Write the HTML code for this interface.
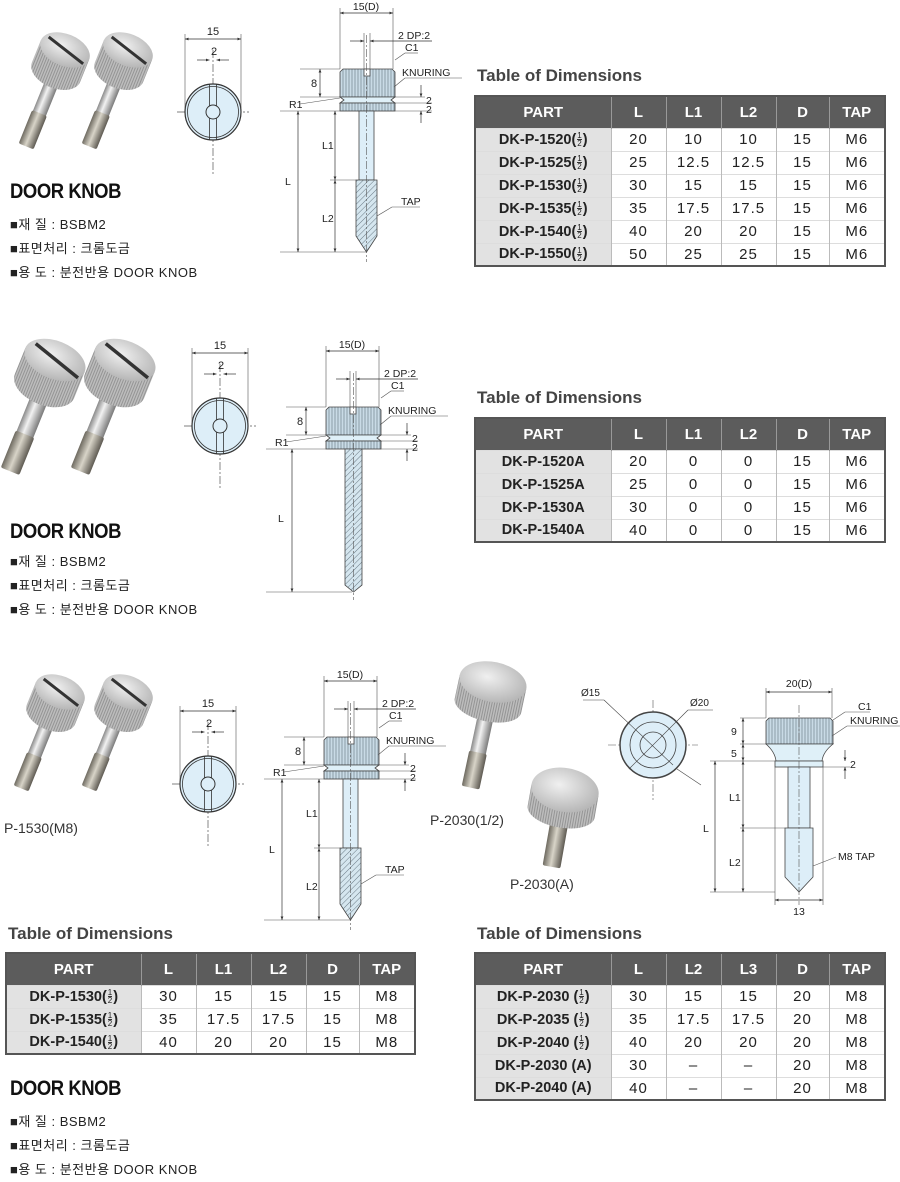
<!DOCTYPE html>
<html><head><meta charset="utf-8">
<style>
*{margin:0;padding:0;box-sizing:border-box}
body{width:900px;height:1177px;background:#fff;position:relative;overflow:hidden;font-family:"Liberation Sans","Noto Sans CJK KR",sans-serif;color:#222}
svg{position:absolute;left:0;top:0}
.tt{position:absolute;font-weight:bold;font-size:17px;color:#444}
table{position:absolute;border-collapse:collapse;border:2px solid #555;font-size:15px}
th{background:#5c5c5c;color:#fff;font-size:15px;font-weight:bold;height:32px;border-left:1px solid #999;text-align:center}
td{height:23px;text-align:center;border-left:1px solid #bbb;letter-spacing:1px;padding:0}
td.p{background:#e2e2e2;font-weight:bold;letter-spacing:0;font-size:14.5px}
tr+tr td{border-top:1px solid #ddd}
.f{display:inline-block;vertical-align:middle;font-size:8px;line-height:7px;text-align:center;font-weight:normal;margin:0 1px}
.f b{display:block;border-bottom:1px solid #333;font-weight:normal}
.dk{position:absolute;font-family:"Liberation Sans Narrow","Liberation Sans",sans-serif;font-weight:bold;font-size:21px;letter-spacing:-0.5px;color:#111;transform:scaleX(0.88);transform-origin:left top}
.bl{position:absolute;font-size:13px;color:#222;line-height:24px;letter-spacing:0.5px}
.lb{position:absolute;font-size:13px;color:#333}
</style></head><body>
<svg width="900" height="1177" viewBox="0 0 900 1177" font-family="Liberation Sans, sans-serif">
<defs>
<pattern id="kn" width="3" height="10" patternUnits="userSpaceOnUse"><rect width="3" height="10" fill="#c9dbe6"/><line x1="1" y1="0" x2="1" y2="10" stroke="#7d8d98" stroke-width="0.8"/></pattern>
<pattern id="th" width="4" height="4" patternUnits="userSpaceOnUse" patternTransform="rotate(45)"><rect width="4" height="4" fill="#d5e6ef"/><line x1="0" y1="0" x2="0" y2="4" stroke="#6a7a85" stroke-width="1"/></pattern>
<pattern id="pk" width="2.5" height="10" patternUnits="userSpaceOnUse"><rect width="2.5" height="10" fill="#bdbdbd"/><line x1="1" y1="0" x2="1" y2="10" stroke="#8a8a8a" stroke-width="0.8"/></pattern>
<linearGradient id="sh" x1="0" x2="1"><stop offset="0" stop-color="#8a8a8a"/><stop offset=".4" stop-color="#f2f2f2"/><stop offset="1" stop-color="#7a7a7a"/></linearGradient>
<linearGradient id="tp" x1="0" x2="1"><stop offset="0" stop-color="#6e6a60"/><stop offset=".45" stop-color="#d8d4c8"/><stop offset="1" stop-color="#5e5a52"/></linearGradient>
<radialGradient id="top" cx=".4" cy=".4" r=".7"><stop offset="0" stop-color="#f0f0f0"/><stop offset="1" stop-color="#b0b0b0"/></radialGradient>
<marker id="a" viewBox="0 0 10 10" refX="10" refY="5" markerWidth="5" markerHeight="5" orient="auto-start-reverse"><path d="M0,1L10,5L0,9z" fill="#333"/></marker>

<g id="knob">
 <rect x="-7" y="28" width="14" height="46" fill="url(#sh)"/>
 <rect x="-8" y="68" width="16" height="36" rx="2" fill="url(#tp)"/>
 <path d="M-26,0 L-26,24 A26,16 0 0 0 26,24 L26,0z" fill="url(#pk)"/>
 <ellipse cx="0" cy="0" rx="26" ry="16" fill="url(#top)"/>
 <path d="M-20,-6 L22,6" stroke="#333" stroke-width="3"/>
</g>
<g id="knob2">
 <rect x="-9" y="36" width="18" height="50" fill="url(#sh)"/>
 <rect x="-10" y="80" width="20" height="40" rx="2" fill="url(#tp)"/>
 <path d="M-32,0 L-32,28 A32,19 0 0 0 32,28 L32,0z" fill="url(#pk)"/>
 <ellipse cx="0" cy="0" rx="32" ry="19" fill="url(#top)"/>
 <path d="M-24,-8 L28,8" stroke="#333" stroke-width="3.5"/>
</g>

<g id="front">
 <line x1="-36" y1="0" x2="36" y2="0" stroke="#555" stroke-width="0.7" stroke-dasharray="8 2 2 2"/>
 <line x1="0" y1="-62" x2="0" y2="62" stroke="#555" stroke-width="0.7" stroke-dasharray="8 2 2 2"/>
 <circle r="28" fill="#ddeef8" stroke="#333" stroke-width="1.2"/>
 <circle r="25.5" fill="none" stroke="#333" stroke-width="0.8"/>
 <line x1="-3.5" y1="-28" x2="-3.5" y2="28" stroke="#333" stroke-width="0.8"/>
 <line x1="3.5" y1="-28" x2="3.5" y2="28" stroke="#333" stroke-width="0.8"/>
 <circle r="7" fill="#ddeef8" stroke="#333" stroke-width="1"/>
 <line x1="-28" y1="-78" x2="-28" y2="-4" stroke="#555" stroke-width="0.6"/>
 <line x1="28" y1="-78" x2="28" y2="-4" stroke="#555" stroke-width="0.6"/>
 <line x1="-28" y1="-73" x2="28" y2="-73" stroke="#333" stroke-width="0.7" marker-start="url(#a)" marker-end="url(#a)"/>
 <text x="0" y="-77" font-size="11" text-anchor="middle" fill="#222">15</text>
 <line x1="-16" y1="-52" x2="-3.5" y2="-52" stroke="#333" stroke-width="0.7" marker-end="url(#a)"/>
 <line x1="16" y1="-52" x2="3.5" y2="-52" stroke="#333" stroke-width="0.7" marker-end="url(#a)"/>
 <text x="1" y="-57" font-size="11" text-anchor="middle" fill="#222">2</text>
</g>

<g id="head" stroke="#444" stroke-width="0.8">
 <path d="M343,69 L392,69 L395,72 L395,97 L340,97 L340,72z" fill="url(#kn)"/>
 <path d="M340,97 L395,97 L391,100 L395,103 L340,103 L344,100z" fill="#dff0f8"/>
 <rect x="340" y="103" width="55" height="8" fill="url(#kn)"/>
 <rect x="364" y="69" width="6" height="7" fill="#fff"/>
 <g fill="none" stroke="#555" stroke-width="0.6">
  <line x1="340" y1="69" x2="340" y2="8"/><line x1="393" y1="69" x2="393" y2="8"/>
  <line x1="364" y1="69" x2="364" y2="33"/><line x1="370" y1="69" x2="370" y2="33"/>
  <line x1="300" y1="69" x2="340" y2="69"/><line x1="300" y1="97" x2="340" y2="97"/>
  <line x1="395" y1="97" x2="425" y2="97"/><line x1="395" y1="103" x2="432" y2="103"/><line x1="280" y1="111" x2="432" y2="111"/>
  <line x1="395" y1="60" x2="405" y2="53"/><line x1="405" y1="53" x2="418" y2="53"/>
  <line x1="394" y1="87" x2="405" y2="78"/><line x1="405" y1="78" x2="462" y2="78"/>
  <line x1="300" y1="104" x2="340" y2="98"/>
 </g>
 <line x1="340" y1="13" x2="393" y2="13" stroke="#333" stroke-width="0.7" marker-start="url(#a)" marker-end="url(#a)"/>
 <line x1="350" y1="41" x2="364" y2="41" stroke="#333" stroke-width="0.7" marker-end="url(#a)"/>
 <line x1="432" y1="41" x2="370" y2="41" stroke="#333" stroke-width="0.7" marker-end="url(#a)"/>
 <line x1="320" y1="69" x2="320" y2="97" stroke="#333" stroke-width="0.7" marker-start="url(#a)" marker-end="url(#a)"/>
 <line x1="421" y1="85" x2="421" y2="97" stroke="#333" stroke-width="0.7" marker-end="url(#a)"/>
 <line x1="421" y1="123" x2="421" y2="111" stroke="#333" stroke-width="0.7" marker-end="url(#a)"/>
 <g stroke="none" fill="#222" font-size="10.5">
  <text x="366" y="10" text-anchor="middle">15(D)</text>
  <text x="398" y="39">2 DP:2</text>
  <text x="405" y="51">C1</text>
  <text x="402" y="76">KNURING</text>
  <text x="311" y="87" font-size="11">8</text>
  <text x="289" y="108">R1</text>
  <text x="426" y="104">2</text>
  <text x="426" y="113">2</text>
 </g>
</g>

<g id="shank1">
 <rect x="359" y="111" width="15" height="69" fill="#ddeef8" stroke="#444" stroke-width="0.8"/>
 <path d="M356,180 L377,180 L377,236 L366.5,252 L356,236z" fill="url(#th)" stroke="#444" stroke-width="0.8"/>
 <line x1="366.5" y1="35" x2="366.5" y2="262" stroke="#555" stroke-width="0.6" stroke-dasharray="8 2 2 2"/>
 <g fill="none" stroke="#555" stroke-width="0.6">
  <line x1="280" y1="252" x2="366" y2="252"/><line x1="330" y1="180" x2="356" y2="180"/>
  <line x1="377" y1="216" x2="392" y2="207"/><line x1="392" y1="207" x2="420" y2="207"/>
 </g>
 <line x1="298" y1="111" x2="298" y2="252" stroke="#333" stroke-width="0.7" marker-start="url(#a)" marker-end="url(#a)"/>
 <line x1="335" y1="111" x2="335" y2="180" stroke="#333" stroke-width="0.7" marker-start="url(#a)" marker-end="url(#a)"/>
 <line x1="335" y1="180" x2="335" y2="252" stroke="#333" stroke-width="0.7" marker-start="url(#a)" marker-end="url(#a)"/>
 <g fill="#222" font-size="10.5">
  <text x="285" y="185">L</text><text x="322" y="149">L1</text><text x="322" y="222">L2</text><text x="401" y="205">TAP</text>
 </g>
</g>
</defs>

<use href="#knob" transform="translate(65,50) rotate(22)"/>
<use href="#knob" transform="translate(128,50) rotate(22)"/>
<use href="#front" transform="translate(213,112)"/>
<use href="#head"/>
<use href="#shank1"/>

<use href="#knob2" transform="translate(55,360) rotate(22)"/>
<use href="#knob2" transform="translate(125,360) rotate(22)"/>
<use href="#front" transform="translate(220,426)"/>
<g transform="translate(-14,338)">
 <use href="#head"/>
 <path d="M359,111 L376,111 L376,247 L367.5,254 L359,247z" fill="url(#th)" stroke="#444" stroke-width="0.8"/>
 <line x1="367.5" y1="35" x2="367.5" y2="262" stroke="#555" stroke-width="0.6" stroke-dasharray="8 2 2 2"/>
 <line x1="280" y1="254" x2="366" y2="254" stroke="#555" stroke-width="0.6"/>
 <line x1="306" y1="111" x2="306" y2="254" stroke="#333" stroke-width="0.7" marker-start="url(#a)" marker-end="url(#a)"/>
 <text x="292" y="184" font-size="10.5" fill="#222">L</text>
</g>

<use href="#knob" transform="translate(60,692) rotate(22)"/>
<use href="#knob" transform="translate(128,692) rotate(22)"/>
<use href="#front" transform="translate(208,784)"/>
<g transform="translate(-16,668)"><use href="#head"/><use href="#shank1"/></g>

<g transform="translate(493,682) rotate(12)">
 <rect x="-8" y="30" width="16" height="48" fill="url(#sh)"/>
 <rect x="-9" y="72" width="18" height="36" rx="2" fill="url(#tp)"/>
 <path d="M-34,0 L-34,24 A34,16 0 0 0 34,24 L34,0z" fill="url(#pk)"/>
 <ellipse cx="0" cy="0" rx="34" ry="20" fill="url(#top)"/>
</g>
<g transform="translate(565,790) rotate(10)">
 <rect x="-9" y="30" width="18" height="48" rx="2" fill="url(#tp)"/>
 <path d="M-34,0 L-34,22 A34,16 0 0 0 34,22 L34,0z" fill="url(#pk)"/>
 <ellipse cx="0" cy="0" rx="34" ry="22" fill="url(#top)"/>
</g>

<g transform="translate(653,745)" stroke-width="0.8">
 <line x1="-45" y1="0" x2="45" y2="0" stroke="#555" stroke-width="0.6" stroke-dasharray="8 2 2 2"/>
 <line x1="0" y1="-45" x2="0" y2="55" stroke="#555" stroke-width="0.6" stroke-dasharray="8 2 2 2"/>
 <circle r="33" fill="#ddeef8" stroke="#444" stroke-width="1.5"/>
 <circle r="23" fill="none" stroke="#444"/>
 <circle r="13" fill="none" stroke="#444"/>
 <line x1="-49" y1="-45" x2="20" y2="20" stroke="#444" stroke-width="0.6"/>
 <line x1="-24" y1="24" x2="35" y2="-35" stroke="#444" stroke-width="0.6"/>
 <line x1="24" y1="24" x2="48" y2="40" stroke="#444" stroke-width="0.6"/>
 <line x1="35" y1="-35" x2="60" y2="-35" stroke="#444" stroke-width="0.6"/>
 <line x1="-70" y1="-45" x2="-49" y2="-45" stroke="#444" stroke-width="0.6"/>
 <text x="-72" y="-49" font-size="10" fill="#222">Ø15</text>
 <text x="37" y="-39" font-size="10" fill="#222">Ø20</text>
</g>

<g stroke="#444" stroke-width="0.8">
 <path d="M769,718 L830,718 L833,721 L833,744 L766,744 L766,721z" fill="url(#kn)"/>
 <path d="M766,744 L833,744 Q823,752 822,761 L776,761 Q775,752 766,744z" fill="#dff0f8"/>
 <rect x="775" y="761" width="48" height="6" fill="#dff0f8"/>
 <rect x="788" y="767" width="22" height="61" fill="#ddeef8"/>
 <path d="M785,828 L813,828 L813,877 L799,892 L785,877z" fill="#ddeef8"/>
 <line x1="799" y1="705" x2="799" y2="905" stroke="#555" stroke-width="0.6" stroke-dasharray="8 2 2 2"/>
 <g fill="none" stroke="#555" stroke-width="0.6">
  <line x1="766" y1="718" x2="766" y2="688"/><line x1="832" y1="718" x2="832" y2="688"/>
  <line x1="740" y1="718" x2="766" y2="718"/><line x1="740" y1="744" x2="766" y2="744"/>
  <line x1="710" y1="761" x2="775" y2="761"/><line x1="823" y1="767" x2="850" y2="767"/>
  <line x1="740" y1="828" x2="785" y2="828"/><line x1="710" y1="892" x2="775" y2="892"/>
  <line x1="775" y1="767" x2="775" y2="905"/><line x1="823" y1="767" x2="823" y2="905"/>
  <line x1="833" y1="720" x2="845" y2="712"/><line x1="845" y1="712" x2="870" y2="712"/>
  <line x1="832" y1="736" x2="847" y2="726"/><line x1="847" y1="726" x2="900" y2="726"/>
  <line x1="813" y1="866" x2="836" y2="857"/>
 </g>
 <line x1="766" y1="692" x2="832" y2="692" stroke="#333" stroke-width="0.7" marker-start="url(#a)" marker-end="url(#a)"/>
 <line x1="743" y1="718" x2="743" y2="744" stroke="#333" stroke-width="0.7" marker-start="url(#a)" marker-end="url(#a)"/>
 <line x1="743" y1="744" x2="743" y2="761" stroke="#333" stroke-width="0.7" marker-start="url(#a)" marker-end="url(#a)"/>
 <line x1="743" y1="761" x2="743" y2="828" stroke="#333" stroke-width="0.7" marker-start="url(#a)" marker-end="url(#a)"/>
 <line x1="743" y1="828" x2="743" y2="892" stroke="#333" stroke-width="0.7" marker-start="url(#a)" marker-end="url(#a)"/>
 <line x1="715" y1="761" x2="715" y2="892" stroke="#333" stroke-width="0.7" marker-start="url(#a)" marker-end="url(#a)"/>
 <line x1="775" y1="900" x2="823" y2="900" stroke="#333" stroke-width="0.7" marker-start="url(#a)" marker-end="url(#a)"/>
 <line x1="845" y1="750" x2="845" y2="761" stroke="#333" stroke-width="0.7" marker-end="url(#a)"/>
 <line x1="845" y1="779" x2="845" y2="767" stroke="#333" stroke-width="0.7" marker-end="url(#a)"/>
 <g stroke="none" fill="#222" font-size="10.5">
  <text x="799" y="687" text-anchor="middle">20(D)</text>
  <text x="858" y="710">C1</text>
  <text x="850" y="724">KNURING</text>
  <text x="731" y="735">9</text><text x="731" y="757">5</text>
  <text x="850" y="768">2</text>
  <text x="729" y="801">L1</text><text x="729" y="866">L2</text><text x="703" y="832">L</text>
  <text x="838" y="860">M8 TAP</text>
  <text x="799" y="915" text-anchor="middle">13</text>
 </g>
</g>
</svg>

<div class="lb" style="left:4px;top:820px;font-size:14px">P-1530(M8)</div>
<div class="lb" style="left:430px;top:812px;font-size:14px">P-2030(1/2)</div>
<div class="lb" style="left:510px;top:876px;font-size:14px">P-2030(A)</div>

<div class="dk" style="left:10px;top:180px">DOOR KNOB</div>
<div class="bl" style="left:10px;top:213px">■재 질 : BSBM2<br>■표면처리 : 크롬도금<br>■용 도 : 분전반용 DOOR KNOB</div>
<div class="dk" style="left:10px;top:520px">DOOR KNOB</div>
<div class="bl" style="left:10px;top:550px">■재 질 : BSBM2<br>■표면처리 : 크롬도금<br>■용 도 : 분전반용 DOOR KNOB</div>
<div class="dk" style="left:10px;top:1077px">DOOR KNOB</div>
<div class="bl" style="left:10px;top:1110px">■재 질 : BSBM2<br>■표면처리 : 크롬도금<br>■용 도 : 분전반용 DOOR KNOB</div>

<div class="tt" style="left:477px;top:66px">Table of Dimensions</div>
<table style="left:474px;top:95px;width:412px">
<tr><th style="width:136px">PART</th><th style="width:55px">L</th><th style="width:55px">L1</th><th style="width:55px">L2</th><th style="width:53px">D</th><th>TAP</th></tr>
<tr><td class="p">DK-P-1520(<span class="f"><b>1</b>2</span>)</td><td>20</td><td>10</td><td>10</td><td>15</td><td>M6</td></tr>
<tr><td class="p">DK-P-1525(<span class="f"><b>1</b>2</span>)</td><td>25</td><td>12.5</td><td>12.5</td><td>15</td><td>M6</td></tr>
<tr><td class="p">DK-P-1530(<span class="f"><b>1</b>2</span>)</td><td>30</td><td>15</td><td>15</td><td>15</td><td>M6</td></tr>
<tr><td class="p">DK-P-1535(<span class="f"><b>1</b>2</span>)</td><td>35</td><td>17.5</td><td>17.5</td><td>15</td><td>M6</td></tr>
<tr><td class="p">DK-P-1540(<span class="f"><b>1</b>2</span>)</td><td>40</td><td>20</td><td>20</td><td>15</td><td>M6</td></tr>
<tr><td class="p">DK-P-1550(<span class="f"><b>1</b>2</span>)</td><td>50</td><td>25</td><td>25</td><td>15</td><td>M6</td></tr>
</table>

<div class="tt" style="left:477px;top:388px">Table of Dimensions</div>
<table style="left:474px;top:417px;width:412px">
<tr><th style="width:136px">PART</th><th style="width:55px">L</th><th style="width:55px">L1</th><th style="width:55px">L2</th><th style="width:53px">D</th><th>TAP</th></tr>
<tr><td class="p">DK-P-1520A</td><td>20</td><td>0</td><td>0</td><td>15</td><td>M6</td></tr>
<tr><td class="p">DK-P-1525A</td><td>25</td><td>0</td><td>0</td><td>15</td><td>M6</td></tr>
<tr><td class="p">DK-P-1530A</td><td>30</td><td>0</td><td>0</td><td>15</td><td>M6</td></tr>
<tr><td class="p">DK-P-1540A</td><td>40</td><td>0</td><td>0</td><td>15</td><td>M6</td></tr>
</table>

<div class="tt" style="left:8px;top:924px">Table of Dimensions</div>
<table style="left:5px;top:952px;width:411px">
<tr><th style="width:135px">PART</th><th style="width:55px">L</th><th style="width:55px">L1</th><th style="width:55px">L2</th><th style="width:53px">D</th><th>TAP</th></tr>
<tr><td class="p">DK-P-1530(<span class="f"><b>1</b>2</span>)</td><td>30</td><td>15</td><td>15</td><td>15</td><td>M8</td></tr>
<tr><td class="p">DK-P-1535(<span class="f"><b>1</b>2</span>)</td><td>35</td><td>17.5</td><td>17.5</td><td>15</td><td>M8</td></tr>
<tr><td class="p">DK-P-1540(<span class="f"><b>1</b>2</span>)</td><td>40</td><td>20</td><td>20</td><td>15</td><td>M8</td></tr>
</table>

<div class="tt" style="left:477px;top:924px">Table of Dimensions</div>
<table style="left:474px;top:952px;width:412px">
<tr><th style="width:136px">PART</th><th style="width:55px">L</th><th style="width:55px">L2</th><th style="width:55px">L3</th><th style="width:53px">D</th><th>TAP</th></tr>
<tr><td class="p">DK-P-2030 (<span class="f"><b>1</b>2</span>)</td><td>30</td><td>15</td><td>15</td><td>20</td><td>M8</td></tr>
<tr><td class="p">DK-P-2035 (<span class="f"><b>1</b>2</span>)</td><td>35</td><td>17.5</td><td>17.5</td><td>20</td><td>M8</td></tr>
<tr><td class="p">DK-P-2040 (<span class="f"><b>1</b>2</span>)</td><td>40</td><td>20</td><td>20</td><td>20</td><td>M8</td></tr>
<tr><td class="p">DK-P-2030 (A)</td><td>30</td><td>–</td><td>–</td><td>20</td><td>M8</td></tr>
<tr><td class="p">DK-P-2040 (A)</td><td>40</td><td>–</td><td>–</td><td>20</td><td>M8</td></tr>
</table>
</body></html>
